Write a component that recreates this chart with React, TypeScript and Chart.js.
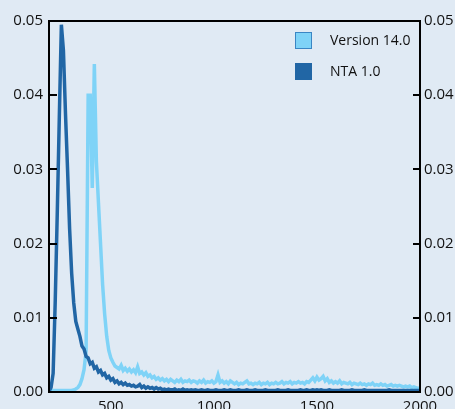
import React, { useEffect, useRef } from "react";
import { Chart, registerables } from "chart.js";

Chart.register(...registerables);

// Sample positions (x) start and spacing, in units of the x axis
const xStart = 200;
const xStep = 10;

const seriesLabels = ["Version 14.0", "NTA 1.0"];

// Version 14.0 (light blue), one value per x sample from 200 to 2000
const version14 = [
  0.0002, 0.0002, 0.0002, 0.0002, 0.0002, 0.0002, 0.0002, 0.0002, 0.0002, 0.0002,
  0.0002, 0.0002, 0.0003, 0.0004, 0.0006, 0.0010, 0.0018, 0.0030, 0.0055, 0.0400,
  0.0400, 0.0275, 0.0442, 0.0310, 0.0255, 0.0200, 0.0145, 0.0105, 0.0075, 0.0056,
  0.0046, 0.0040, 0.0035, 0.0033, 0.0031, 0.0036, 0.0029, 0.0032, 0.0028, 0.0031,
  0.0027, 0.0030, 0.0026, 0.0034, 0.0025, 0.0027, 0.0023, 0.0026, 0.0021, 0.0023,
  0.0019, 0.0021, 0.0017, 0.0019, 0.0016, 0.0018, 0.0015, 0.0017, 0.0014, 0.0017,
  0.0015, 0.0013, 0.0016, 0.0014, 0.0017, 0.0013, 0.0015, 0.0014, 0.0016, 0.0013,
  0.0015, 0.0014, 0.0012, 0.0015, 0.0013, 0.0016, 0.0012, 0.0014, 0.0013, 0.0015,
  0.0012, 0.0014, 0.0023, 0.0013, 0.0015, 0.0012, 0.0014, 0.0011, 0.0015, 0.0013,
  0.0011, 0.0013, 0.0010, 0.0012, 0.0011, 0.0013, 0.0015, 0.0011, 0.0012, 0.0010,
  0.0012, 0.0011, 0.0013, 0.0010, 0.0012, 0.0011, 0.0013, 0.0010, 0.0012, 0.0011,
  0.0013, 0.0011, 0.0012, 0.0014, 0.0011, 0.0013, 0.0012, 0.0014, 0.0011, 0.0013,
  0.0012, 0.0014, 0.0012, 0.0013, 0.0011, 0.0014, 0.0013, 0.0016, 0.0019, 0.0015,
  0.0020, 0.0016, 0.0018, 0.0021, 0.0015, 0.0018, 0.0013, 0.0015, 0.0012, 0.0014,
  0.0012, 0.0015, 0.0011, 0.0013, 0.0012, 0.0011, 0.0013, 0.0010, 0.0012, 0.0011,
  0.0010, 0.0012, 0.0010, 0.0011, 0.0009, 0.0011, 0.0010, 0.0012, 0.0009, 0.0010,
  0.0009, 0.0011, 0.0009, 0.0010, 0.0008, 0.0009, 0.0010, 0.0008, 0.0009, 0.0008,
  0.0009, 0.0008, 0.0007, 0.0008, 0.0007, 0.0008, 0.0006, 0.0007, 0.0006, 0.0005,
  0.0005,
];

// NTA 1.0 (dark blue), one value per x sample from 200 to 2000
const nta10 = [
  0.0001, 0.0006, 0.0025, 0.0120, 0.0240, 0.0370, 0.0495, 0.0460, 0.0375, 0.0300,
  0.0220, 0.0160, 0.0120, 0.0095, 0.0085, 0.0075, 0.0062, 0.0058, 0.0048, 0.0046,
  0.0038, 0.0040, 0.0032, 0.0034, 0.0027, 0.0029, 0.0023, 0.0025, 0.0019, 0.0021,
  0.0016, 0.0018, 0.0013, 0.0015, 0.0011, 0.0013, 0.0010, 0.0012, 0.0009, 0.0010,
  0.0008, 0.0009, 0.0007, 0.0008, 0.0010, 0.0006, 0.0008, 0.0005, 0.0007, 0.0005,
  0.0006, 0.0004, 0.0006, 0.0004, 0.0005, 0.0003, 0.0004, 0.0003, 0.0004, 0.0003,
  0.0003, 0.0004, 0.0002, 0.0003, 0.0002, 0.0004, 0.0002, 0.0003, 0.0002, 0.0003,
  0.0002, 0.0003, 0.0002, 0.0002, 0.0003, 0.0002, 0.0002, 0.0003, 0.0002, 0.0002,
  0.0002, 0.0003, 0.0002, 0.0002, 0.0002, 0.0003, 0.0002, 0.0002, 0.0003, 0.0002,
  0.0002, 0.0002, 0.0003, 0.0002, 0.0002, 0.0002, 0.0003, 0.0002, 0.0002, 0.0002,
  0.0003, 0.0002, 0.0002, 0.0002, 0.0002, 0.0003, 0.0002, 0.0002, 0.0002, 0.0002,
  0.0002, 0.0003, 0.0002, 0.0002, 0.0002, 0.0002, 0.0003, 0.0002, 0.0002, 0.0002,
  0.0002, 0.0002, 0.0003, 0.0002, 0.0002, 0.0003, 0.0002, 0.0002, 0.0003, 0.0002,
  0.0003, 0.0002, 0.0003, 0.0002, 0.0002, 0.0002, 0.0003, 0.0002, 0.0002, 0.0002,
  0.0002, 0.0002, 0.0003, 0.0002, 0.0002, 0.0002, 0.0002, 0.0003, 0.0002, 0.0002,
  0.0002, 0.0002, 0.0002, 0.0003, 0.0002, 0.0002, 0.0002, 0.0002, 0.0002, 0.0002,
  0.0002, 0.0002, 0.0002, 0.0002, 0.0002, 0.0003, 0.0002, 0.0002, 0.0002, 0.0002,
  0.0002, 0.0002, 0.0002, 0.0002, 0.0002, 0.0002, 0.0002, 0.0002, 0.0002, 0.0002,
  0.0002,
];

const yTicks = [0, 0.01, 0.02, 0.03, 0.04, 0.05];
const xTicks = [500, 1000, 1500, 2000];

const BG = "#e0eaf4";
const LIGHT = "#7fd3f7";
const DARK = "#2166a5";
const FONT = "'Open Sans', sans-serif";

const toPoints = (arr: number[]) => arr.map((y, i) => ({ x: xStart + i * xStep, y }));

const frame = {
  id: "frame",
  afterDatasetsDraw(chart: any) {
    const { ctx, chartArea: a } = chart;
    ctx.save();
    ctx.strokeStyle = "#000";
    ctx.lineWidth = 2;
    ctx.strokeRect(a.left, a.top, a.right - a.left, a.bottom - a.top);
    const ys = chart.scales.y;
    yTicks.forEach((v) => {
      const py = Math.round(ys.getPixelForValue(v));
      ctx.beginPath();
      ctx.moveTo(a.left, py);
      ctx.lineTo(a.left + 8, py);
      ctx.moveTo(a.right - 7, py);
      ctx.lineTo(a.right, py);
      ctx.stroke();
    });
    ctx.restore();
  },
};

const insideLegend = {
  id: "insideLegend",
  afterDraw(chart: any) {
    const { ctx } = chart;
    const colors = [LIGHT, DARK];
    const borders = ["#3a86c4", DARK];
    ctx.save();
    ctx.font = `14px ${FONT}`;
    ctx.textBaseline = "middle";
    ctx.textAlign = "left";
    seriesLabels.forEach((lab, i) => {
      const y = 32 + i * 31;
      ctx.fillStyle = colors[i];
      ctx.fillRect(295, y, 17, 17);
      ctx.strokeStyle = borders[i];
      ctx.lineWidth = 1;
      ctx.strokeRect(295.5, y + 0.5, 16, 16);
      ctx.fillStyle = "#111";
      ctx.fillText(lab, 330, y + 9);
    });
    ctx.restore();
  },
};

export default function App() {
  const ref = useRef<HTMLCanvasElement>(null);

  useEffect(() => {
    if (!ref.current) return;
    const tickFont = { family: FONT, size: 15 };
    const chart = new Chart(ref.current, {
      type: "line",
      data: {
        datasets: [
          {
            label: seriesLabels[1],
            data: toPoints(nta10),
            borderColor: DARK,
            backgroundColor: DARK,
            borderWidth: 3.5,
            pointRadius: 0,
            tension: 0,
          },
          {
            label: seriesLabels[0],
            data: toPoints(version14),
            borderColor: LIGHT,
            backgroundColor: LIGHT,
            borderWidth: 3.5,
            pointRadius: 0,
            tension: 0,
          },
        ],
      },
      options: {
        responsive: false,
        animation: false,
        layout: { padding: { top: 21, left: 0, right: 0, bottom: 0 } },
        plugins: {
          legend: { display: false },
          tooltip: { enabled: false },
        },
        scales: {
          x: {
            type: "linear",
            min: 200,
            max: 2000,
            afterBuildTicks: (s: any) => {
              s.ticks = xTicks.map((v) => ({ value: v }));
            },
            afterFit: (s: any) => {
              s.height = 17;
            },
            grid: { display: false, drawTicks: false },
            border: { display: false },
            ticks: {
              color: "#111",
              font: tickFont,
              padding: 6,
              maxRotation: 0,
              autoSkip: false,
              callback: (v: any) => String(v),
            },
          },
          y: {
            type: "linear",
            position: "left",
            min: 0,
            max: 0.05,
            afterBuildTicks: (s: any) => {
              s.ticks = yTicks.map((v) => ({ value: v }));
            },
            afterFit: (s: any) => {
              s.width = 49;
            },
            grid: { display: false, drawTicks: false },
            border: { display: false },
            ticks: {
              color: "#111",
              font: tickFont,
              padding: 6,
              callback: (v: any) => Number(v).toFixed(2),
            },
          },
          y2: {
            type: "linear",
            position: "right",
            min: 0,
            max: 0.05,
            afterBuildTicks: (s: any) => {
              s.ticks = yTicks.map((v) => ({ value: v }));
            },
            afterFit: (s: any) => {
              s.width = 35;
            },
            grid: { display: false, drawTicks: false },
            border: { display: false },
            ticks: {
              color: "#111",
              font: tickFont,
              padding: 4,
              callback: (v: any) => Number(v).toFixed(2),
            },
          },
        },
      } as any,
      plugins: [frame, insideLegend],
    });
    return () => chart.destroy();
  }, []);

  return (
    <div
      style={{
        position: "fixed",
        left: 0,
        top: 0,
        width: 455,
        height: 409,
        background: BG,
        overflow: "hidden",
      }}
    >
      <canvas ref={ref} width={455} height={409} style={{ display: "block" }} />
    </div>
  );
}
